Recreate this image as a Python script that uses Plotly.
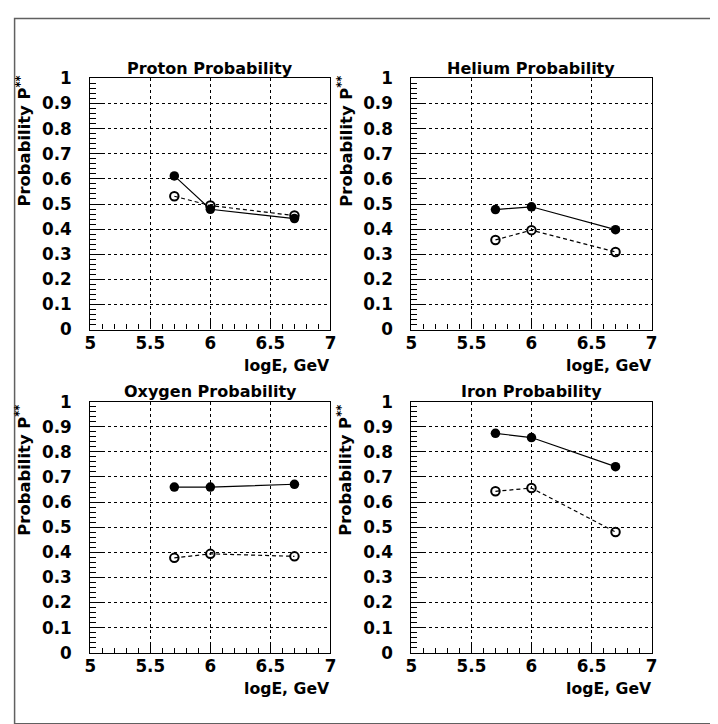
import plotly.graph_objects as go

# ---- data ----
energies = [5.7, 6.0, 6.7]
proton_filled = [0.612, 0.479, 0.442]
proton_open = [0.531, 0.494, 0.454]
helium_filled = [0.478, 0.489, 0.398]
helium_open = [0.357, 0.396, 0.309]
oxygen_filled = [0.660, 0.660, 0.671]
oxygen_open = [0.378, 0.394, 0.384]
iron_filled = [0.874, 0.857, 0.741]
iron_open = [0.643, 0.656, 0.481]

titles = ["Proton Probability", "Helium Probability", "Oxygen Probability", "Iron Probability"]
filled_series = [proton_filled, helium_filled, oxygen_filled, iron_filled]
open_series = [proton_open, helium_open, oxygen_open, iron_open]
x_ticks = [5, 5.5, 6, 6.5, 7]
y_ticks = [0, 0.1, 0.2, 0.3, 0.4, 0.5, 0.6, 0.7, 0.8, 0.9, 1]
x_title = "logE, GeV"
y_title = "Probability P<sup>**</sup>"

W, H = 718, 730
FONT = "DejaVu Sans"

# observed mapping from figure pixels to picture pixels
AX, BX = 0.988, 12.7
AY, BY = 0.972, 17.3

def px(x):
    return ((x - BX) / AX) / W

def py(y):
    return 1 - ((y - BY) / AY) / H

# target panel boxes in picture pixels: (left, right, top, bottom, ytitle_top_shift)
boxes = [
    (89.3, 330.7, 77.7, 328.7, -5),
    (412.0, 653.3, 77.7, 328.7, -5),
    (89.3, 330.7, 400.7, 651.7, 1),
    (412.0, 653.3, 400.7, 651.7, 1),
]

fig = go.Figure()
annotations = []
layout = {}

for i, (box, ttl, fs, os_) in enumerate(zip(boxes, titles, filled_series, open_series)):
    n = "" if i == 0 else str(i + 1)
    xa, ya = "x" + n, "y" + n
    l, r, t, b, ys = box
    fig.add_trace(go.Scatter(
        x=energies, y=fs, xaxis=xa, yaxis=ya, mode="lines+markers",
        line=dict(color="black", width=1.2),
        marker=dict(symbol="circle", size=9.5, color="black"),
        showlegend=False, cliponaxis=False))
    fig.add_trace(go.Scatter(
        x=energies, y=os_, xaxis=xa, yaxis=ya, mode="lines+markers",
        line=dict(color="black", width=1.2, dash="4px,3px"),
        marker=dict(symbol="circle-open", size=8.5, color="black", line=dict(width=2)),
        showlegend=False, cliponaxis=False))
    common = dict(
        showline=True, linecolor="black", linewidth=1.2, mirror=True,
        showgrid=True, gridcolor="black", gridwidth=1, griddash="dot",
        zeroline=False, ticks="inside", tickcolor="black", tickwidth=1,
        tickfont=dict(family=FONT, size=16.8, color="black", weight="bold"),
    )
    layout["xaxis" + n] = dict(
        domain=[px(l), px(r)], anchor=ya, range=[5, 7], ticklen=10,
        tickvals=x_ticks, ticktext=[f"{v:g}" for v in x_ticks],
        minor=dict(ticks="inside", ticklen=5, dtick=0.1, tick0=5, tickcolor="black", showgrid=False),
        ticklabelstandoff=-2, **common)
    layout["yaxis" + n] = dict(
        domain=[py(b), py(t)], anchor=xa, range=[0, 1], ticklen=12,
        tickvals=y_ticks, ticktext=[f"{v:g}" for v in y_ticks],
        minor=dict(ticks="inside", ticklen=6, dtick=0.02, tick0=0, tickcolor="black", showgrid=False),
        ticklabelstandoff=14, **common)
    # panel title
    annotations.append(dict(
        text=ttl, xref="paper", yref="paper", x=px((l + r) / 2), y=py(t - 10),
        xanchor="center", yanchor="middle", showarrow=False,
        font=dict(family=FONT, size=16, color="black", weight="bold")))
    # x title
    annotations.append(dict(
        text=x_title, xref="paper", yref="paper", x=px(r + 2), y=py(b + 36),
        xanchor="right", yanchor="middle", showarrow=False,
        font=dict(family=FONT, size=15.7, color="black", weight="bold")))
    # y title
    annotations.append(dict(
        text=y_title, xref="paper", yref="paper", x=px(l - 67), y=py(t + ys),
        xanchor="center", yanchor="top", textangle=-90, showarrow=False,
        font=dict(family=FONT, size=16.4, color="black", weight="bold")))

fig.update_layout(
    width=W, height=H, autosize=False,
    margin=dict(l=0, r=0, t=0, b=0),
    paper_bgcolor="white", plot_bgcolor="white",
    annotations=annotations,
    shapes=[dict(type="rect", xref="paper", yref="paper",
                 x0=0.6 / W, x1=1.05, y0=py(722.5), y1=1 - 0.6 / H,
                 line=dict(color="#606060", width=1.5))],
    **layout,
)

fig.write_html("out.html")
